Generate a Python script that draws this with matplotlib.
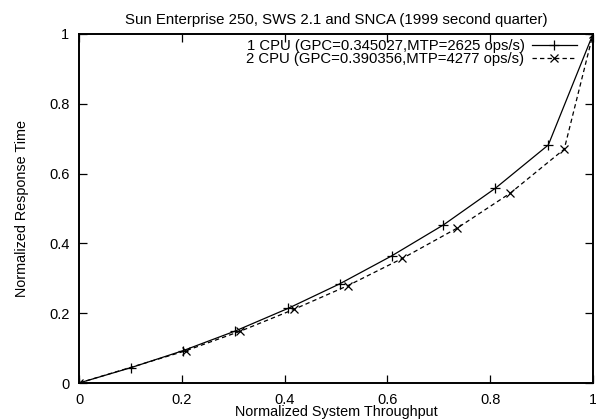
import matplotlib
matplotlib.use("Agg")
import matplotlib.pyplot as plt

plt.rcParams['font.family'] = ['Liberation Sans', 'DejaVu Sans']

# throughput / response time, normalized
x_1cpu = [0, 0.101, 0.203, 0.304, 0.407, 0.507, 0.608, 0.709, 0.81, 0.913, 1.0]
y_1cpu = [0, 0.044, 0.093, 0.149, 0.214, 0.284, 0.364, 0.453, 0.558, 0.682, 1.0]
x_2cpu = [0, 0.209, 0.313, 0.418, 0.523, 0.629, 0.736, 0.839, 0.944, 1.0]
y_2cpu = [0, 0.093, 0.148, 0.211, 0.279, 0.357, 0.444, 0.544, 0.670, 1.0]

lbl_1cpu = "1 CPU (GPC=0.345027,MTP=2625 ops/s)"
lbl_2cpu = "2 CPU (GPC=0.390356,MTP=4277 ops/s)"
ticks = [0, 0.2, 0.4, 0.6, 0.8, 1]
tick_lbls = ["0", "0.2", "0.4", "0.6", "0.8", "1"]

fig = plt.figure(figsize=(5.96, 4.19), dpi=100)
ax = fig.add_axes([0.1326, 0.0859, 0.8624, 0.833])

ax.plot(x_1cpu, y_1cpu, color='black', lw=0.9, marker='+', ms=6.5, mew=0.9,
        label=lbl_1cpu)
ax.plot(x_2cpu, y_2cpu, color='black', lw=0.9, ls=(0, (3.5, 2.5)), marker='x',
        ms=5.5, mew=0.9, label=lbl_2cpu)

ax.set_xlim(0, 1)
ax.set_ylim(0, 1)
ax.set_xticks(ticks)
ax.set_xticklabels(tick_lbls)
ax.set_yticks(ticks)
ax.set_yticklabels(tick_lbls)
ax.tick_params(direction='in', length=6, width=0.9, top=True, right=True,
               labelsize=10.5, pad=7)
for s in ax.spines.values():
    s.set_linewidth(1.4)

ax.set_title("Sun Enterprise 250, SWS 2.1 and SNCA (1999 second quarter)",
             fontsize=10.8, pad=7.5)
ax.set_xlabel("Normalized System Throughput", fontsize=10.4, labelpad=-1)
ax.set_ylabel("Normalized Response Time", fontsize=10.4, labelpad=14)

leg = ax.legend(loc='upper right', bbox_to_anchor=(0.969, 0.986), frameon=False,
                fontsize=10.7, markerfirst=False, handlelength=3.06,
                handletextpad=0.48, labelspacing=-0.05, borderpad=0,
                borderaxespad=0)

fig.savefig("out.png", dpi=100)
